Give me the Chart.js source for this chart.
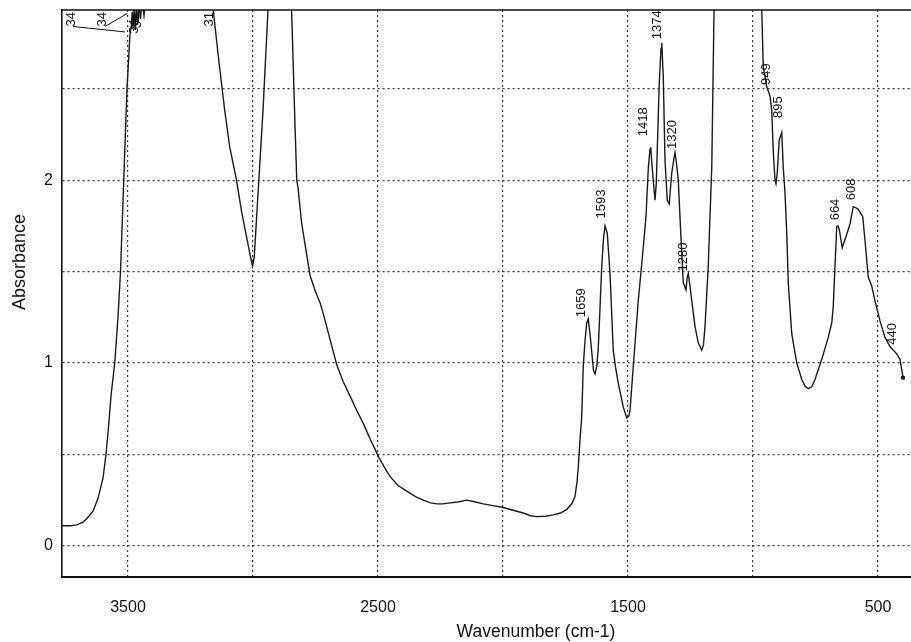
<!DOCTYPE html>
<html>
<head>
<meta charset="utf-8">
<script src="https://cdn.jsdelivr.net/npm/chart.js@4.4.1/dist/chart.umd.min.js"></script>
<style>
  html, body { margin: 0; padding: 0; background: #fff; }
  #wrap { width: 911px; height: 642px; }
</style>
</head>
<body>
<div id="wrap"><canvas id="irChart" width="911" height="642"></canvas></div>
<script>
// spectrum trace (values above ~2.93 are off scale)
const wavenumbers = [
  3764, 3730, 3705, 3680, 3664, 3640, 3620, 3600, 3588, 3578, 3568, 3553, 3540, 3530, 3517, 3504,
  3492, 3487, 3483, 3479, 3475, 3471, 3466, 3461, 3456, 3450, 3444, 3436, 3428, 3420, 3400,
  3170, 3159, 3139, 3113, 3093, 3066, 3046, 3023, 3010, 3002, 2995, 2978, 2960, 2940, 2930,
  2855, 2845, 2838, 2832, 2825, 2820, 2805, 2792, 2772, 2750, 2732, 2719, 2690, 2665, 2640,
  2612, 2585, 2559, 2530, 2495, 2470, 2452, 2420, 2385, 2350, 2319, 2290, 2265, 2240, 2212,
  2180, 2145, 2110, 2079, 2040, 1999, 1960, 1919, 1890, 1865, 1830, 1799, 1770, 1745, 1725,
  1712, 1704, 1699, 1692, 1685, 1679, 1672, 1665, 1659, 1652, 1645, 1638, 1632, 1625, 1619,
  1612, 1605, 1598, 1592, 1583, 1572, 1559, 1549, 1539, 1519, 1505, 1497, 1492, 1479, 1459,
  1441, 1428, 1419, 1412, 1409, 1404, 1399, 1392, 1387, 1383, 1375, 1368, 1365, 1359, 1352,
  1343, 1335, 1325, 1316, 1312, 1305, 1299, 1289, 1279, 1268, 1263, 1259, 1252, 1245, 1232,
  1219, 1205, 1198, 1192, 1179, 1165, 1156, 1150,
  975, 965, 959, 945, 932, 925, 919, 912, 908, 903, 895, 885, 879, 872, 865, 859, 845, 825,
  805, 790, 779, 765, 752, 725, 699, 685, 679, 672, 665, 660, 655, 643, 636, 628, 612, 599,
  590, 579, 561, 552, 539, 525, 512, 492, 472, 452, 425, 412, 400
];
const absorbance = [
  0.11, 0.11, 0.115, 0.13, 0.15, 0.19, 0.26, 0.37, 0.50, 0.65, 0.82, 1.0, 1.25, 1.5, 2.0, 2.5,
  2.80, 2.84, 2.92, 2.83, 2.96, 2.82, 2.94, 2.85, 2.97, 2.88, 2.99, 2.90, 3.0, 3.1, 3.2,
  3.2, 2.93, 2.68, 2.38, 2.18, 2.0, 1.83, 1.67, 1.58, 1.53, 1.58, 1.97, 2.38, 2.93, 3.2,
  3.2, 2.9, 2.58, 2.3, 2.0, 1.96, 1.76, 1.65, 1.48, 1.39, 1.33, 1.27, 1.12, 0.99, 0.90,
  0.82, 0.74, 0.67, 0.58, 0.48, 0.42, 0.38, 0.33, 0.30, 0.27, 0.25, 0.235, 0.23, 0.23, 0.235,
  0.24, 0.25, 0.24, 0.23, 0.22, 0.21, 0.195, 0.18, 0.165, 0.16, 0.162, 0.17, 0.18, 0.20, 0.23,
  0.27, 0.35, 0.43, 0.58, 0.71, 0.98, 1.12, 1.22, 1.24, 1.16, 1.06, 0.96, 0.94, 0.98, 1.08,
  1.30, 1.53, 1.68, 1.75, 1.71, 1.49, 1.07, 0.97, 0.89, 0.76, 0.70, 0.71, 0.74, 0.98, 1.34,
  1.60, 1.80, 2.06, 2.17, 2.18, 2.08, 2.0, 1.89, 1.98, 2.16, 2.53, 2.72, 2.75, 2.57, 2.11,
  1.89, 1.87, 2.04, 2.12, 2.15, 2.08, 2.0, 1.71, 1.44, 1.40, 1.47, 1.49, 1.42, 1.34, 1.20,
  1.11, 1.07, 1.10, 1.20, 1.53, 2.07, 2.91, 3.2,
  3.2, 2.93, 2.62, 2.51, 2.46, 2.38, 2.16, 2.0, 1.98, 2.04, 2.22, 2.26, 2.07, 1.93, 1.71, 1.44, 1.16, 1.0,
  0.91, 0.87, 0.86, 0.87, 0.91, 1.02, 1.14, 1.22, 1.31, 1.53, 1.745, 1.75, 1.73, 1.63, 1.66, 1.69, 1.76, 1.855,
  1.85, 1.84, 1.80, 1.67, 1.47, 1.42, 1.34, 1.23, 1.14, 1.09, 1.05, 1.02, 0.92
];

const xTicks = [3500, 3000, 2500, 2000, 1500, 1000, 500];
const xTickLabels = ['3500', '', '2500', '', '1500', '', '500'];
const yTicks = [0, 0.5, 1, 1.5, 2, 2.5];
const yTickLabels = ['0', '', '1', '', '2', ''];

// peak picks printed on the spectrum (text bottom at x, y)
const peakLabels = ['34', '34', '34', '34', '31', '1374', '1418', '1320', '1593', '1659', '1280', '949', '895', '664', '608', '440'];
const peakX = [3728, 3604, 3474, 3464, 3176, 1384, 1440, 1324, 1608, 1686, 1280, 948, 900, 672, 608, 444];
const peakY = [2.84, 2.84, 2.80, 2.83, 2.84, 2.77, 2.24, 2.17, 1.79, 1.25, 1.50, 2.52, 2.34, 1.78, 1.89, 1.10];

// little leader lines under the crowded 34xx picks
const leaderX1 = [3720, 3592];
const leaderY1 = [2.84, 2.84];
const leaderX2 = [3512, 3504];
const leaderY2 = [2.81, 2.91];

const spectrum = wavenumbers.map((w, i) => ({ x: w, y: absorbance[i] }));

const annotate = {
  id: 'annotate',
  beforeDraw(chart) {
    const c = chart.ctx;
    c.save();
    c.fillStyle = '#fff';
    c.fillRect(0, 0, chart.width, chart.height);
    c.restore();
  },
  afterDatasetsDraw(chart) {
    const c = chart.ctx;
    const xs = chart.scales.x;
    const ys = chart.scales.y;
    const area = chart.chartArea;

    c.save();
    // top frame line
    c.strokeStyle = '#111';
    c.lineWidth = 1.6;
    c.beginPath();
    c.moveTo(area.left, area.top);
    c.lineTo(area.right, area.top);
    c.stroke();

    c.lineWidth = 1;
    c.beginPath();
    for (let i = 0; i < leaderX1.length; i++) {
      c.moveTo(xs.getPixelForValue(leaderX1[i]), ys.getPixelForValue(leaderY1[i]));
      c.lineTo(xs.getPixelForValue(leaderX2[i]), ys.getPixelForValue(leaderY2[i]));
    }
    c.stroke();

    c.fillStyle = '#111';
    c.font = '13px "Liberation Sans", Arial, sans-serif';
    c.textAlign = 'left';
    c.textBaseline = 'middle';
    peakLabels.forEach((txt, i) => {
      c.save();
      c.translate(xs.getPixelForValue(peakX[i]), ys.getPixelForValue(peakY[i]));
      c.rotate(-Math.PI / 2);
      c.fillText(txt, 0, 0);
      c.restore();
    });

    // axis titles
    c.font = '17.5px "Liberation Sans", Arial, sans-serif';
    c.textAlign = 'center';
    c.fillText('Wavenumber (cm-1)', 536, 632);
    c.save();
    c.translate(20, 262);
    c.rotate(-Math.PI / 2);
    c.font = '18px "Liberation Sans", Arial, sans-serif';
    c.fillText('Absorbance', 0, 0);
    c.restore();
    c.restore();
  }
};

new Chart(document.getElementById('irChart'), {
  type: 'line',
  data: {
    datasets: [{
      data: spectrum,
      borderColor: '#1a1a1a',
      borderWidth: 1.4,
      tension: 0,
      fill: false,
      pointRadius: ctx => (ctx.dataIndex === wavenumbers.length - 1 ? 2.2 : 0),
      pointBackgroundColor: '#1a1a1a',
      pointBorderWidth: 0
    }]
  },
  options: {
    responsive: false,
    animation: false,
    layout: { autoPadding: false, padding: { top: 10, right: 0, left: 0, bottom: 0 } },
    plugins: {
      legend: { display: false },
      tooltip: { enabled: false }
    },
    scales: {
      x: {
        type: 'linear',
        reverse: true,
        min: 368,
        max: 3764,
        afterBuildTicks: scale => { scale.ticks = xTicks.map(v => ({ value: v })); },
        afterFit: scale => {
          scale.height = 65;
          scale.paddingLeft = 0;
          scale.paddingRight = 0;
        },
        ticks: {
          padding: 21,
          maxRotation: 0,
          autoSkip: false,
          color: '#111',
          font: { family: '"Liberation Sans", Arial, sans-serif', size: 16 },
          callback: value => xTickLabels[xTicks.indexOf(value)]
        },
        grid: { color: '#3a3a3a', lineWidth: 1.2, drawTicks: false },
        border: { display: true, color: '#111', width: 2, dash: [2, 3] }
      },
      y: {
        min: -0.17,
        max: 2.93,
        afterBuildTicks: scale => { scale.ticks = yTicks.map(v => ({ value: v })); },
        afterFit: scale => {
          scale.width = 62;
          scale.paddingTop = 0;
          scale.paddingBottom = 0;
        },
        ticks: {
          padding: 9,
          color: '#111',
          font: { family: '"Liberation Sans", Arial, sans-serif', size: 16 },
          callback: value => yTickLabels[yTicks.indexOf(value)]
        },
        grid: { color: '#3a3a3a', lineWidth: 1.2, drawTicks: false },
        border: { display: true, color: '#111', width: 1.6, dash: [2, 3] }
      }
    }
  },
  plugins: [annotate]
});
</script>
</body>
</html>
